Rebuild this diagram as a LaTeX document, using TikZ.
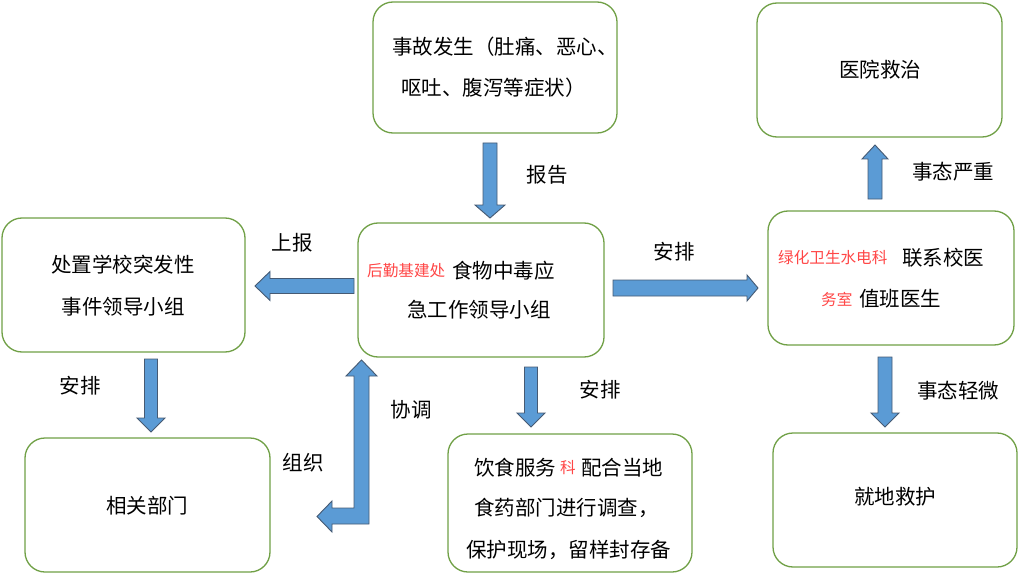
\documentclass[tikz,border=0pt]{standalone}
\usepackage{fontspec}
\setmainfont{Noto Sans CJK SC}
\definecolor{boxgreen}{RGB}{112,160,70}
\definecolor{arrowblue}{RGB}{91,155,213}
\definecolor{arrowedge}{RGB}{70,90,115}
\definecolor{redtxt}{RGB}{255,70,70}
\newcommand\blockarrow[6]{% start, angle, length, shaft half, head half, head length
  \draw[blockarrowstyle, shift={#1}, rotate=#2]
    (0,-#4) -- ({#3-#6},-#4) -- ({#3-#6},-#5) -- (#3,0) -- ({#3-#6},#5) -- ({#3-#6},#4) -- (0,#4) -- cycle;}
\begin{document}
\begin{tikzpicture}[x=1pt,y=-1pt,
  box/.style={draw=boxgreen, line width=1.3pt, rounded corners=20pt, inner sep=0pt, fill=white},
  txt/.style={inner sep=0pt, font=\fontsize{20.5}{24}\selectfont},
  rtxt/.style={inner sep=0pt, text=redtxt, font=\fontsize{15.6}{18}\selectfont},
  blockarrowstyle/.style={fill=arrowblue, draw=arrowedge, line width=0.9pt, line join=miter}]
\useasboundingbox (0,0) rectangle (1028,575);
% boxes
\node[box, minimum width=244pt, minimum height=131pt] (accident) at (495,67.5) {};
\node[box, minimum width=246pt, minimum height=134pt] (lead) at (481,290) {};
\node[box, minimum width=243pt, minimum height=134pt] (school) at (123.5,285) {};
\node[box, minimum width=245pt, minimum height=134pt] (dept) at (147.5,505) {};
\node[box, minimum width=244pt, minimum height=138pt] (food) at (570,503) {};
\node[box, minimum width=246pt, minimum height=134pt] (clinic) at (891,278) {};
\node[box, minimum width=245pt, minimum height=134pt] (hospital) at (879.5,70) {};
\node[box, minimum width=244pt, minimum height=134pt] (local) at (895,500) {};
% box texts
\node[txt, anchor=west] (t1a) at (392,47) {事故发生（肚痛、恶心、};
\node[txt, anchor=west] (t1b) at (401,88) {呕吐、腹泻等症状）};
\node[rtxt, anchor=west] (t2r) at (367,271) {后勤基建处};
\node[txt, anchor=west] (t2a) at (452,271) {食物中毒应};
\node[txt, anchor=west] (t2b) at (407,310) {急工作领导小组};
\node[txt] (t3a) at (123,265) {处置学校突发性};
\node[txt] (t3b) at (123,307) {事件领导小组};
\node[txt] (t4) at (147,506) {相关部门};
\node[txt, anchor=west] (t5a) at (474,468) {饮食服务};
\node[rtxt, anchor=west] (t5r) at (560,468) {科};
\node[txt, anchor=west] (t5b) at (581,468) {配合当地};
\node[txt, anchor=west] (t5c) at (474,508) {食药部门进行调查，};
\node[txt, anchor=west] (t5d) at (466,550) {保护现场，留样封存备};
\node[rtxt, anchor=west] (t6r) at (778,258) {绿化卫生水电科};
\node[txt, anchor=west] (t6a) at (902,258) {联系校医};
\node[rtxt, anchor=west] (t6s) at (821,299) {务室};
\node[txt, anchor=west] (t6b) at (859,299) {值班医生};
\node[txt] (t7) at (880,70) {医院救治};
\node[txt] (t8) at (895,497) {就地救护};
% labels
\node[txt] (l1) at (547,175) {报告};
\node[txt] (l2) at (292,243) {上报};
\node[txt] (l3) at (674,252) {安排};
\node[txt] (l4) at (953,172) {事态严重};
\node[txt] (l5) at (958,391) {事态轻微};
\node[txt] (l6) at (600,390) {安排};
\node[txt] (l7) at (80,386) {安排};
\node[txt] (l8) at (411,410) {协调};
\node[txt] (l9) at (303,463) {组织};
% block arrows
\blockarrow{(490,143)}{-90}{75}{7}{15}{13}
\blockarrow{(354,286)}{180}{99}{7.5}{14.5}{15}
\blockarrow{(613,288)}{0}{145}{8}{13}{11}
\blockarrow{(875,199)}{90}{54}{7}{13}{14}
\blockarrow{(885,357)}{-90}{70}{7}{14}{14}
\blockarrow{(151,359)}{-90}{73}{6.5}{14}{14}
\blockarrow{(531,367)}{-90}{60}{6.5}{14}{14}
% L-shaped arrow
\draw[blockarrowstyle] (361.5,360) -- (377,376) -- (369,376) -- (369,524) -- (332,524) -- (332,532)
  -- (317,516.5) -- (332,501) -- (332,508) -- (354,508) -- (354,376) -- (346,376) -- cycle;
\end{tikzpicture}
\end{document}
